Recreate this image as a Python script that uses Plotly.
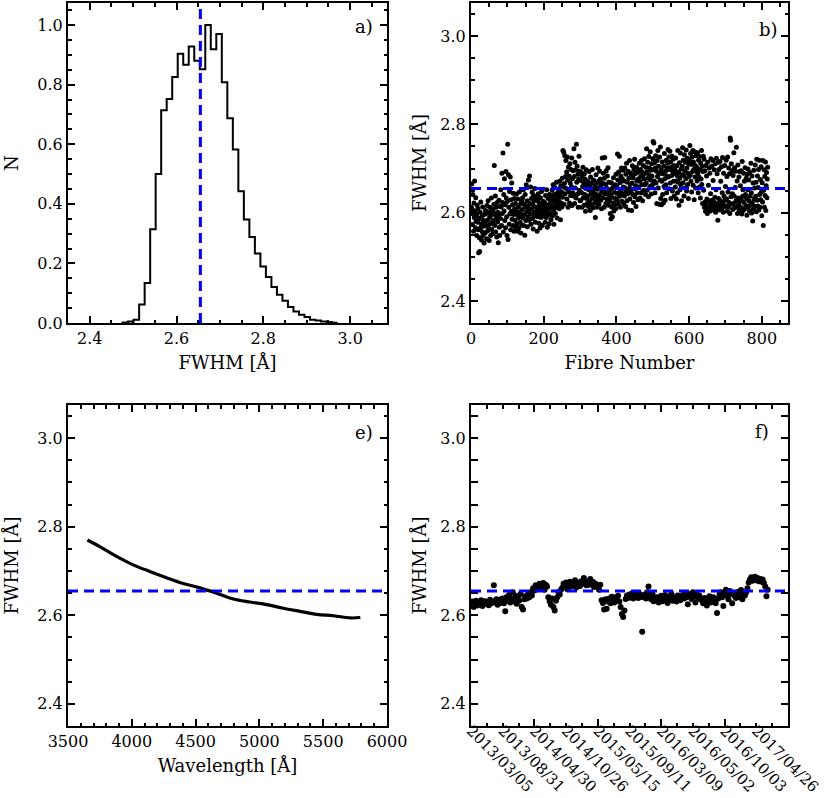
import numpy as np
import plotly.graph_objects as go

# ---------------- data ----------------
mean_fwhm = 2.655

# panel a: normalised histogram of FWHM
hist_start = 2.4758
hist_width = 0.0127
hist_n = [0.002, 0.005, 0.011, 0.062, 0.134, 0.315, 0.500, 0.714, 0.752, 0.826,
          0.904, 0.867, 0.928, 0.880, 0.852, 1.000, 0.919, 0.970, 0.808, 0.687,
          0.582, 0.442, 0.347, 0.289, 0.233, 0.190, 0.154, 0.121, 0.095, 0.075,
          0.054, 0.039, 0.028, 0.020, 0.011, 0.008, 0.005, 0.003, 0.001]

# panel b: FWHM per fibre (fibre 1..816)
fibre_fwhm = [
 2.612, 2.665, 2.598, 2.573, 2.641, 2.605, 2.558, 2.622, 2.589, 2.672, 2.603, 2.566, 2.634, 2.581, 2.595, 2.548, 2.617, 2.578, 2.609, 2.561,
 2.509, 2.587, 2.543, 2.512, 2.601, 2.566, 2.624, 2.575, 2.538, 2.592, 2.557, 2.613, 2.548, 2.583, 2.569, 2.531, 2.596, 2.577, 2.554, 2.605,
 2.572, 2.598, 2.541, 2.616, 2.583, 2.559, 2.627, 2.566, 2.601, 2.537, 2.589, 2.612, 2.575, 2.548, 2.594, 2.633, 2.562, 2.608, 2.579, 2.552,
 2.604, 2.583, 2.619, 2.707, 2.571, 2.596, 2.638, 2.556, 2.612, 2.587, 2.545, 2.623, 2.579, 2.601, 2.532, 2.593, 2.628, 2.567, 2.548, 2.614,
 2.587, 2.652, 2.613, 2.571, 2.689, 2.598, 2.623, 2.735, 2.556, 2.641, 2.604, 2.677, 2.582, 2.618, 2.566, 2.693, 2.633, 2.591, 2.548, 2.625,
 2.755, 2.539, 2.686, 2.612, 2.574, 2.648, 2.597, 2.681, 2.561, 2.629, 2.603, 2.667, 2.585, 2.618, 2.571, 2.644, 2.596, 2.558, 2.632, 2.609,
 2.583, 2.621, 2.567, 2.604, 2.642, 2.575, 2.595, 2.558, 2.631, 2.612, 2.589, 2.566, 2.647, 2.601, 2.578, 2.619, 2.554, 2.596, 2.627, 2.572,
 2.607, 2.634, 2.588, 2.652, 2.571, 2.619, 2.596, 2.549, 2.641, 2.613, 2.582, 2.663, 2.602, 2.627, 2.568, 2.615, 2.591, 2.674, 2.606, 2.583,
 2.683, 2.621, 2.597, 2.658, 2.574, 2.632, 2.609, 2.646, 2.587, 2.618, 2.563, 2.639, 2.601, 2.627, 2.592, 2.655, 2.578, 2.613, 2.636, 2.598,
 2.604, 2.558, 2.627, 2.591, 2.643, 2.612, 2.576, 2.621, 2.598, 2.565, 2.634, 2.607, 2.589, 2.648, 2.615, 2.571, 2.602, 2.626, 2.593, 2.611,
 2.596, 2.623, 2.607, 2.578, 2.639, 2.614, 2.589, 2.652, 2.601, 2.567, 2.618, 2.632, 2.594, 2.609, 2.575, 2.641, 2.616, 2.598, 2.625, 2.584,
 2.634, 2.612, 2.651, 2.593, 2.628, 2.663, 2.605, 2.574, 2.641, 2.619, 2.657, 2.598, 2.636, 2.611, 2.669, 2.627, 2.588, 2.645, 2.616, 2.632,
 2.627, 2.652, 2.609, 2.671, 2.638, 2.584, 2.661, 2.622, 2.647, 2.613, 2.678, 2.635, 2.741, 2.658, 2.737, 2.619, 2.666, 2.729, 2.643, 2.682,
 2.718, 2.655, 2.692, 2.631, 2.726, 2.674, 2.612, 2.703, 2.648, 2.683, 2.622, 2.711, 2.667, 2.639, 2.698, 2.659, 2.724, 2.616, 2.677, 2.645,
 2.695, 2.638, 2.745, 2.682, 2.621, 2.714, 2.656, 2.697, 2.633, 2.755, 2.669, 2.705, 2.642, 2.687, 2.612, 2.676, 2.728, 2.651, 2.694, 2.627,
 2.673, 2.628, 2.691, 2.645, 2.612, 2.682, 2.659, 2.703, 2.634, 2.667, 2.617, 2.688, 2.641, 2.676, 2.603, 2.655, 2.697, 2.632, 2.664, 2.621,
 2.638, 2.671, 2.614, 2.652, 2.693, 2.626, 2.659, 2.605, 2.681, 2.643, 2.617, 2.667, 2.632, 2.698, 2.648, 2.611, 2.674, 2.636, 2.655, 2.622,
 2.661, 2.589, 2.642, 2.686, 2.627, 2.668, 2.612, 2.653, 2.701, 2.635, 2.672, 2.619, 2.657, 2.694, 2.641, 2.676, 2.628, 2.663, 2.609, 2.648,
 2.724, 2.667, 2.634, 2.689, 2.651, 2.612, 2.678, 2.725, 2.643, 2.664, 2.621, 2.695, 2.656, 2.631, 2.683, 2.645, 2.702, 2.617, 2.669, 2.638,
 2.627, 2.652, 2.598, 2.641, 2.586, 2.668, 2.613, 2.635, 2.591, 2.657, 2.622, 2.679, 2.604, 2.646, 2.618, 2.663, 2.632, 2.609, 2.687, 2.644,
 2.661, 2.628, 2.733, 2.674, 2.619, 2.692, 2.645, 2.728, 2.637, 2.668, 2.612, 2.683, 2.651, 2.701, 2.626, 2.677, 2.643, 2.696, 2.658, 2.621,
 2.672, 2.638, 2.701, 2.656, 2.614, 2.687, 2.649, 2.712, 2.627, 2.669, 2.643, 2.694, 2.606, 2.678, 2.655, 2.718, 2.631, 2.664, 2.689, 2.647,
 2.682, 2.605, 2.667, 2.706, 2.641, 2.679, 2.623, 2.698, 2.654, 2.721, 2.636, 2.688, 2.661, 2.614, 2.703, 2.672, 2.645, 2.691, 2.629, 2.676,
 2.694, 2.658, 2.712, 2.671, 2.633, 2.698, 2.682, 2.645, 2.718, 2.664, 2.692, 2.627, 2.684, 2.707, 2.651, 2.676, 2.722, 2.663, 2.689, 2.641,
 2.703, 2.667, 2.745, 2.692, 2.651, 2.714, 2.678, 2.636, 2.727, 2.685, 2.701, 2.659, 2.738, 2.674, 2.696, 2.642, 2.711, 2.683, 2.663, 2.722,
 2.761, 2.698, 2.758, 2.672, 2.713, 2.645, 2.701, 2.729, 2.667, 2.694, 2.621, 2.718, 2.682, 2.741, 2.656, 2.705, 2.688, 2.619, 2.726, 2.674,
 2.749, 2.632, 2.697, 2.618, 2.671, 2.715, 2.641, 2.688, 2.622, 2.705, 2.659, 2.734, 2.677, 2.628, 2.694, 2.663, 2.719, 2.645, 2.683, 2.701,
 2.712, 2.743, 2.681, 2.726, 2.654, 2.698, 2.739, 2.667, 2.715, 2.632, 2.703, 2.684, 2.728, 2.649, 2.694, 2.721, 2.671, 2.707, 2.638, 2.689,
 2.697, 2.658, 2.724, 2.672, 2.631, 2.706, 2.684, 2.645, 2.741, 2.669, 2.692, 2.617, 2.713, 2.678, 2.652, 2.735, 2.663, 2.699, 2.627, 2.686,
 2.705, 2.747, 2.668, 2.719, 2.684, 2.638, 2.731, 2.695, 2.656, 2.714, 2.677, 2.742, 2.649, 2.701, 2.723, 2.664, 2.689, 2.632, 2.711, 2.682,
 2.718, 2.752, 2.686, 2.734, 2.671, 2.709, 2.647, 2.726, 2.693, 2.741, 2.662, 2.715, 2.698, 2.629, 2.738, 2.681, 2.707, 2.656, 2.729, 2.694,
 2.703, 2.672, 2.736, 2.689, 2.645, 2.719, 2.681, 2.727, 2.658, 2.697, 2.633, 2.712, 2.676, 2.741, 2.664, 2.705, 2.621, 2.693, 2.728, 2.651,
 2.721, 2.612, 2.695, 2.624, 2.603, 2.707, 2.618, 2.683, 2.631, 2.598, 2.714, 2.609, 2.662, 2.627, 2.701, 2.615, 2.689, 2.604, 2.643, 2.722,
 2.619, 2.705, 2.628, 2.611, 2.718, 2.673, 2.606, 2.624, 2.697, 2.615, 2.635, 2.711, 2.601, 2.652, 2.723, 2.621, 2.688, 2.609, 2.583, 2.714,
 2.632, 2.698, 2.613, 2.606, 2.716, 2.627, 2.671, 2.618, 2.704, 2.609, 2.645, 2.725, 2.622, 2.601, 2.689, 2.637, 2.614, 2.707, 2.628, 2.659,
 2.615, 2.719, 2.631, 2.682, 2.604, 2.726, 2.647, 2.612, 2.701, 2.623, 2.688, 2.598, 2.769, 2.764, 2.636, 2.711, 2.619, 2.695, 2.643, 2.607,
 2.684, 2.621, 2.736, 2.638, 2.702, 2.611, 2.657, 2.694, 2.627, 2.748, 2.613, 2.672, 2.598, 2.708, 2.633, 2.619, 2.681, 2.604, 2.693, 2.626,
 2.661, 2.612, 2.695, 2.628, 2.597, 2.716, 2.637, 2.652, 2.605, 2.689, 2.623, 2.671, 2.609, 2.702, 2.641, 2.616, 2.678, 2.632, 2.594, 2.687,
 2.652, 2.699, 2.613, 2.674, 2.627, 2.604, 2.691, 2.638, 2.618, 2.712, 2.645, 2.599, 2.683, 2.622, 2.581, 2.667, 2.609, 2.696, 2.631, 2.656,
 2.614, 2.708, 2.637, 2.669, 2.602, 2.721, 2.628, 2.683, 2.615, 2.657, 2.698, 2.606, 2.719, 2.641, 2.612, 2.675, 2.629, 2.704, 2.647, 2.593,
 2.668, 2.624, 2.718, 2.571, 2.651, 2.697, 2.612, 2.682, 2.639, 2.715, 2.605, 2.661, 2.691, 2.634, 2.676, 2.703,
]

# panel e: FWHM versus wavelength
wave = [3652, 3749, 3880, 4010, 4141, 4272, 4403, 4534, 4665, 4796,
        4927, 5058, 5188, 5319, 5450, 5581, 5712, 5791]
wave_fwhm = [2.770, 2.755, 2.733, 2.714, 2.699, 2.685, 2.672, 2.662, 2.650, 2.637,
             2.630, 2.624, 2.616, 2.609, 2.602, 2.599, 2.594, 2.595]

# panel f: FWHM per observation (every 4th observation index)
obs_step = 4
obs_fwhm = [
 2.624, 2.631, 2.619, 2.627, 2.633, 2.622, 2.629, 2.625, 2.634, 2.621, 2.628, 2.632, 2.626, 2.630, 2.623, 2.635, 2.627, 2.631, 2.668, 2.629, 2.636, 2.624, 2.632, 2.628, 2.637,
 2.638, 2.627, 2.609, 2.641, 2.633, 2.646, 2.629, 2.637, 2.652, 2.631, 2.644, 2.626, 2.639, 2.633, 2.648, 2.619, 2.613, 2.636,
 2.643, 2.638, 2.647, 2.641,
 2.652, 2.645, 2.661, 2.656, 2.668, 2.659, 2.664, 2.671, 2.662, 2.667, 2.673, 2.658, 2.669, 2.665,
 2.641, 2.632, 2.624, 2.638, 2.619, 2.611, 2.633,
 2.641, 2.652, 2.647, 2.658,
 2.662, 2.671, 2.667, 2.674, 2.659, 2.669, 2.676, 2.665, 2.672, 2.668, 2.679, 2.663, 2.674, 2.670, 2.666, 2.677, 2.671, 2.684, 2.673, 2.668, 2.675, 2.669, 2.682, 2.671, 2.676, 2.664, 2.672, 2.668,
 2.665, 2.658, 2.669,
 2.634, 2.628, 2.613, 2.636, 2.615, 2.631, 2.638, 2.627, 2.642, 2.633, 2.629,
 2.641, 2.636, 2.644, 2.631, 2.619, 2.603, 2.596, 2.611, 2.637, 2.645, 2.639,
 2.647, 2.641, 2.649, 2.638, 2.645, 2.651, 2.643, 2.639, 2.648, 2.642,
 2.563,
 2.641, 2.647, 2.638, 2.652, 2.665, 2.644, 2.636, 2.649, 2.632, 2.641,
 2.634, 2.641, 2.629, 2.637, 2.644, 2.632, 2.639, 2.646, 2.635, 2.628, 2.642, 2.637, 2.649, 2.633, 2.641, 2.636, 2.631, 2.645, 2.639, 2.634, 2.642,
 2.646, 2.638, 2.651, 2.641, 2.625, 2.644, 2.648, 2.637, 2.652, 2.643, 2.629, 2.647, 2.639, 2.645, 2.636,
 2.634, 2.627, 2.639, 2.631, 2.622, 2.637, 2.643, 2.629, 2.635, 2.641, 2.632,
 2.627, 2.605, 2.638, 2.647, 2.652, 2.641, 2.621, 2.649, 2.658, 2.644, 2.636, 2.655, 2.648, 2.627, 2.651, 2.643,
 2.639, 2.648, 2.653, 2.641, 2.657, 2.636, 2.649, 2.645, 2.652, 2.661,
 2.674, 2.681, 2.686, 2.678, 2.683, 2.687, 2.679, 2.684, 2.677, 2.682, 2.676, 2.681, 2.673, 2.665, 2.643, 2.658,
]
date_tick_index = [0, 100, 200, 300, 400, 500, 600, 700, 800, 900]
date_labels = ["2013/03/05", "2013/08/31", "2014/04/30", "2014/10/26", "2015/05/15",
               "2015/09/11", "2016/03/09", "2016/05/02", "2016/10/03", "2017/04/26"]

# ---------------- figure ----------------
W, H = 830, 798
FONT = "DejaVu Serif"

def xdom(l, r):
    return [l / W, r / W]

def ydom(t, b):
    return [1 - b / H, 1 - t / H]

fig = go.Figure()

# a) histogram as step outline
edges = hist_start + hist_width * np.arange(len(hist_n) + 1)
hx = list(edges)
hy = list(hist_n) + [hist_n[-1]]
fig.add_trace(go.Scatter(x=[edges[0]] + hx, y=[0] + hy, mode="lines",
                         line=dict(color="black", width=2, shape="hv"),
                         xaxis="x", yaxis="y", showlegend=False))

# b) per-fibre scatter
fibres = np.arange(1, len(fibre_fwhm) + 1)
fig.add_trace(go.Scatter(x=fibres, y=fibre_fwhm, mode="markers",
                         marker=dict(color="black", size=5),
                         xaxis="x2", yaxis="y2", showlegend=False))

# e) wavelength dependence
fig.add_trace(go.Scatter(x=wave, y=wave_fwhm, mode="lines",
                         line=dict(color="black", width=3.2, shape="spline"),
                         xaxis="x3", yaxis="y3", showlegend=False))

# f) time series
obs_idx = np.arange(len(obs_fwhm)) * obs_step
fig.add_trace(go.Scatter(x=obs_idx, y=obs_fwhm, mode="markers",
                         marker=dict(color="black", size=6),
                         xaxis="x4", yaxis="y4", showlegend=False))
# invisible trace for the date label axis
fig.add_trace(go.Scatter(x=[date_tick_index[0]], y=[mean_fwhm], mode="markers",
                         marker=dict(opacity=0), hoverinfo="skip",
                         xaxis="x5", yaxis="y4", showlegend=False))

tickfont = dict(family=FONT, size=16, color="black")
titlefont = dict(family=FONT, size=18, color="black")

def ax(**kw):
    d = dict(showline=True, linecolor="black", linewidth=2, mirror="allticks",
             ticks="inside", ticklen=7, tickwidth=1.5, tickcolor="black",
             showgrid=False, zeroline=False, tickfont=tickfont, automargin=False,
             minor=dict(ticks="inside", ticklen=3.5, tickwidth=1.5,
                        tickcolor="black", showgrid=False))
    minor_dtick = kw.pop("minor_dtick", None)
    if minor_dtick is not None:
        d["minor"]["dtick"] = minor_dtick
    d.update(kw)
    return d

top_row = (3, 323)
bot_row = (405, 726)

fig.update_layout(
    width=W, height=H, margin=dict(l=0, r=0, t=0, b=0),
    paper_bgcolor="white", plot_bgcolor="white",
    font=dict(family=FONT, color="black"),
    xaxis=ax(domain=xdom(68, 387), anchor="y", range=[2.35, 3.085],
             tick0=2.4, dtick=0.2, minor_dtick=0.05, tickformat=".1f",
             title=dict(text="FWHM [Å]", font=titlefont, standoff=9)),
    yaxis=ax(domain=ydom(*top_row), anchor="x", range=[0, 1.074],
             tick0=0, dtick=0.2, minor_dtick=0.05, tickformat=".1f",
             title=dict(text="N", font=titlefont, standoff=14)),
    xaxis2=ax(domain=xdom(471, 788), anchor="y2", range=[0, 872],
              tick0=0, dtick=200, minor_dtick=50,
              title=dict(text="Fibre Number", font=titlefont, standoff=9)),
    yaxis2=ax(domain=ydom(*top_row), anchor="x2", range=[2.35, 3.075],
              tick0=2.4, dtick=0.2, minor_dtick=0.05, tickformat=".1f",
              title=dict(text="FWHM [Å]", font=titlefont, standoff=9)),
    xaxis3=ax(domain=xdom(68, 387), anchor="y3", range=[3500, 6000],
              tick0=3500, dtick=500, minor_dtick=100,
              title=dict(text="Wavelength [Å]", font=titlefont, standoff=9)),
    yaxis3=ax(domain=ydom(*bot_row), anchor="x3", range=[2.35, 3.075],
              tick0=2.4, dtick=0.2, minor_dtick=0.05, tickformat=".1f",
              title=dict(text="FWHM [Å]", font=titlefont, standoff=14)),
    xaxis4=ax(domain=xdom(471, 788), anchor="y4", range=[0, 1000],
              tick0=0, dtick=200, minor_dtick=50, showticklabels=False),
    xaxis5=dict(overlaying="x4", anchor="free", position=1 - 718 / H,
                side="bottom", range=[0, 1000],
                tickmode="array", tickvals=date_tick_index, ticktext=date_labels,
                tickangle=45, ticks="", showline=False, showgrid=False,
                zeroline=False, tickfont=dict(family=FONT, size=15, color="black"),
                automargin=False),
    yaxis4=ax(domain=ydom(*bot_row), anchor="x4", range=[2.35, 3.075],
              tick0=2.4, dtick=0.2, minor_dtick=0.05, tickformat=".1f",
              title=dict(text="FWHM [Å]", font=titlefont, standoff=9)),
)

dash = "10px,6px"
blue = dict(color="#0000FF", width=3, dash=dash)
fig.add_shape(type="line", xref="x", yref="y domain", x0=mean_fwhm, x1=mean_fwhm,
              y0=0, y1=1, line=blue)
for xr, yr in [("x2 domain", "y2"), ("x3 domain", "y3"), ("x4 domain", "y4")]:
    fig.add_shape(type="line", xref=xr, yref=yr, x0=0, x1=1,
                  y0=mean_fwhm, y1=mean_fwhm, line=blue)

labels = [("a)", "x", "y", 0.928, 0.928), ("b)", "x2", "y2", 0.937, 0.916),
          ("e)", "x3", "y3", 0.928, 0.913), ("f)", "x4", "y4", 0.918, 0.916)]
for txt, xa, ya, xx, yy in labels:
    fig.add_annotation(text=txt, xref=xa + " domain", yref=ya + " domain",
                       x=xx, y=yy, xanchor="center", yanchor="middle",
                       showarrow=False, font=titlefont)

fig.write_html("out.html", config={"displayModeBar": False},
               post_script="document.body.style.margin='0';document.body.style.overflow='hidden';")
